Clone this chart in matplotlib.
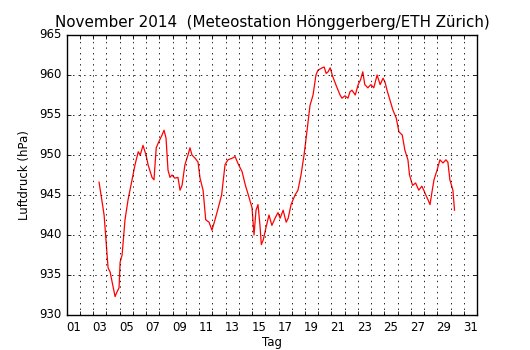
import numpy as np
import matplotlib
matplotlib.use('Agg')
import matplotlib.pyplot as plt
from matplotlib.ticker import FixedLocator, NullFormatter

tag = [3.44, 3.82, 4.12, 4.27, 4.33, 4.50, 4.65, 4.80, 4.95, 5.03,
       5.18, 5.40, 5.63, 5.93, 6.16, 6.40, 6.55, 6.76, 6.99, 7.14,
       7.44, 7.59, 7.76, 7.91, 8.20, 8.35, 8.50, 8.65, 8.80, 8.95,
       9.17, 9.40, 9.56, 9.71, 9.93, 10.16, 10.31, 10.46, 10.70, 10.92,
       11.07, 11.30, 11.50, 11.75, 11.97, 12.20, 12.40, 12.70, 12.96, 13.18,
       13.50, 13.72, 13.95, 14.25, 14.50, 14.72, 15.00, 15.15, 15.30, 15.45,
       15.60, 15.70, 15.85, 16.05, 16.28, 16.50, 16.74, 16.96, 17.12, 17.35,
       17.58, 17.73, 17.95, 18.25, 18.47, 18.70, 18.93, 19.16, 19.38, 19.61,
       19.83, 19.98, 20.30, 20.45, 20.60, 20.75, 20.90, 21.10, 21.33, 21.65,
       21.80, 22.02, 22.25, 22.40, 22.55, 22.80, 23.02, 23.20, 23.37, 23.52,
       23.75, 23.98, 24.20, 24.45, 24.68, 24.90, 25.05, 25.20, 25.42, 25.65,
       25.90, 26.10, 26.35, 26.55, 26.78, 26.90, 27.13, 27.36, 27.60, 27.83,
       27.98, 28.13, 28.30, 28.45, 28.60, 28.75, 28.98, 29.20, 29.43, 29.65,
       29.80, 29.95, 30.18, 30.30]
druck = [946.6, 942.5, 935.9, 935.4, 934.9, 933.5, 932.3, 932.9, 933.4, 936.6,
         937.5, 941.9, 944.4, 946.9, 948.8, 950.4, 950.0, 951.2, 950.0, 948.8,
         947.2, 946.9, 950.9, 951.5, 952.5, 953.1, 952.1, 948.1, 947.2, 947.5,
         947.1, 947.2, 945.6, 946.2, 948.8, 950.0, 950.9, 950.0, 949.6, 949.1,
         947.1, 945.6, 941.9, 941.6, 940.6, 941.9, 943.1, 945.0, 948.8, 949.4,
         949.6, 949.8, 948.9, 947.9, 946.2, 945.0, 943.4, 940.0, 943.1, 943.8,
         941.2, 938.8, 939.4, 940.9, 942.5, 941.2, 942.1, 942.8, 942.1, 943.1,
         941.6, 942.1, 943.8, 945.0, 945.6, 947.5, 950.0, 953.1, 956.2, 957.5,
         960.0, 960.6, 960.9, 961.0, 960.2, 960.4, 960.9, 959.8, 958.8, 957.5,
         957.1, 957.4, 957.1, 957.9, 958.1, 957.5, 958.8, 959.4, 960.4, 958.8,
         958.4, 958.8, 958.4, 960.0, 958.8, 959.6, 959.1, 958.1, 956.9, 955.6,
         954.6, 952.9, 952.5, 950.6, 949.4, 947.5, 946.2, 946.5, 945.6, 946.1,
         945.6, 945.0, 944.4, 943.8, 945.4, 946.9, 948.1, 949.4, 949.0, 949.4,
         949.1, 946.9, 945.6, 943.1]

tage = np.arange(1, 33)
labels = ['%02d' % d for d in range(1, 32, 2)]

plt.style.use('classic')
fig = plt.figure(figsize=(5.3, 3.5), dpi=100, facecolor='white')
ax = fig.add_subplot(111)
fig.subplots_adjust(left=0.126, right=0.9, bottom=0.1, top=0.9)

ax.plot(tag, druck, 'r-', lw=0.9)

ax.set_xlim(1, 32)
ax.set_ylim(930, 965)
ax.xaxis.set_major_locator(FixedLocator(tage))
ax.xaxis.set_major_formatter(NullFormatter())
ax.xaxis.set_minor_locator(FixedLocator(np.arange(1.5, 32, 2)))
ax.set_xticklabels(labels, minor=True)
ax.tick_params(axis='x', which='minor', length=0, labelsize=8.5, pad=4.5)
ax.tick_params(axis='both', which='major', labelsize=8.5, length=3, width=0.6, pad=4)
ax.grid(True, which='major', linestyle=':', color='k', linewidth=0.6)

ax.set_xlabel('Tag', fontsize=8.5, labelpad=1)
ax.set_ylabel('Luftdruck (hPa)', fontsize=8.5, labelpad=6)
ax.set_title('November 2014  (Meteostation Hönggerberg/ETH Zürich)', fontsize=10.9, y=1.005)

fig.savefig('out.png', dpi=100, facecolor='white')
